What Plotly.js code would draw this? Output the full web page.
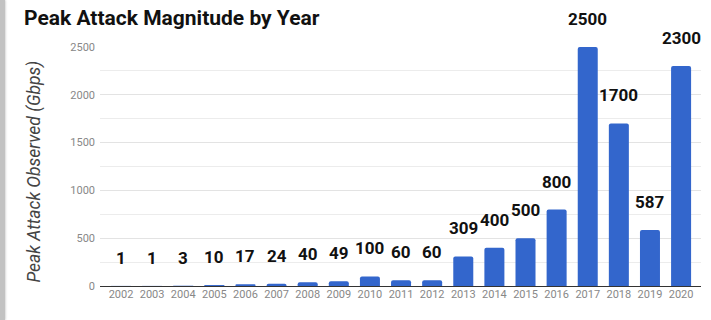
<!DOCTYPE html>
<html>
<head>
<meta charset="utf-8">
<script src="https://cdn.plot.ly/plotly-3.0.1.min.js"></script>
<style>
  html, body { margin: 0; padding: 0; background: #fff; }
  #wrap { position: relative; width: 711px; height: 320px; overflow: hidden; }
  #edge { position: absolute; left: 0; top: 0; width: 5px; height: 320px;
          background: #c2c2c2; box-shadow: 1px 0 2px rgba(0,0,0,0.15); z-index: 2; }
  #chart { position: absolute; left: 0; top: 0; width: 711px; height: 320px; }
</style>
</head>
<body>
<div id="wrap">
  <div id="edge"></div>
  <div id="chart"></div>
</div>
<script>
// Peak DDoS attack size per year, in Gbps
const years = ['2002','2003','2004','2005','2006','2007','2008','2009','2010','2011',
               '2012','2013','2014','2015','2016','2017','2018','2019','2020'];
const peakGbps = [1, 1, 3, 10, 17, 24, 40, 49, 100, 60, 60, 309, 400, 500, 800, 2500, 1700, 587, 2300];
const yTicks = [0, 500, 1000, 1500, 2000, 2500];

const FONT = 'Roboto, "Open Sans", Arial, sans-serif';

const bars = {
  type: 'bar',
  x: years,
  y: peakGbps,
  marker: { color: '#3366cc', cornerradius: 2 },
  hoverinfo: 'x+y'
};

// value labels floating above each bar (category axes take the serial index)
const labels = years.map((yr, i) => ({
  x: i,
  y: peakGbps[i],
  xref: 'x',
  yref: 'y',
  text: '<b>' + peakGbps[i] + '</b>',
  showarrow: false,
  xanchor: 'center',
  yanchor: 'middle',
  yshift: 28,
  font: { family: FONT, size: 17, color: '#111' }
}));

labels.push({
  xref: 'paper', yref: 'paper',
  x: 0, y: 0.5,
  xshift: -66,
  yshift: -5,
  textangle: -90,
  text: '<i>Peak Attack Observed (Gbps)</i>',
  showarrow: false,
  xanchor: 'center', yanchor: 'middle',
  font: { family: FONT, size: 17.5, color: '#444' }
});

const layout = {
  width: 711,
  height: 320,
  margin: { l: 100, r: 10, t: 47, b: 34, pad: 0 },
  paper_bgcolor: '#ffffff',
  plot_bgcolor: '#ffffff',
  showlegend: false,
  bargap: 0.357,
  title: {
    text: '<b>Peak Attack Magnitude by Year</b>',
    x: 24 / 711, xref: 'container', xanchor: 'left',
    y: 1 - 18 / 320, yref: 'container', yanchor: 'middle',
    font: { family: FONT, size: 21, color: '#111' }
  },
  xaxis: {
    type: 'category',
    range: [-0.675, 18.64],
    showgrid: false,
    showline: false,
    zeroline: false,
    ticks: '',
    tickfont: { family: FONT, size: 11, color: '#888' },
    fixedrange: true
  },
  yaxis: {
    range: [0, 2500],
    tickvals: yTicks,
    ticktext: yTicks.map(String),
    showgrid: true,
    gridcolor: '#e3e3e3',
    gridwidth: 1,
    minor: { dtick: 250, tick0: 0, showgrid: true, gridcolor: '#ececec', gridwidth: 1, ticks: '' },
    zeroline: true,
    zerolinecolor: '#333',
    zerolinewidth: 1,
    showline: false,
    ticks: '',
    ticklabelstandoff: 4,
    tickfont: { family: FONT, size: 11, color: '#888' },
    fixedrange: true
  },
  annotations: labels
};

Plotly.newPlot('chart', [bars], layout, { displayModeBar: false, staticPlot: true });
</script>
</body>
</html>
